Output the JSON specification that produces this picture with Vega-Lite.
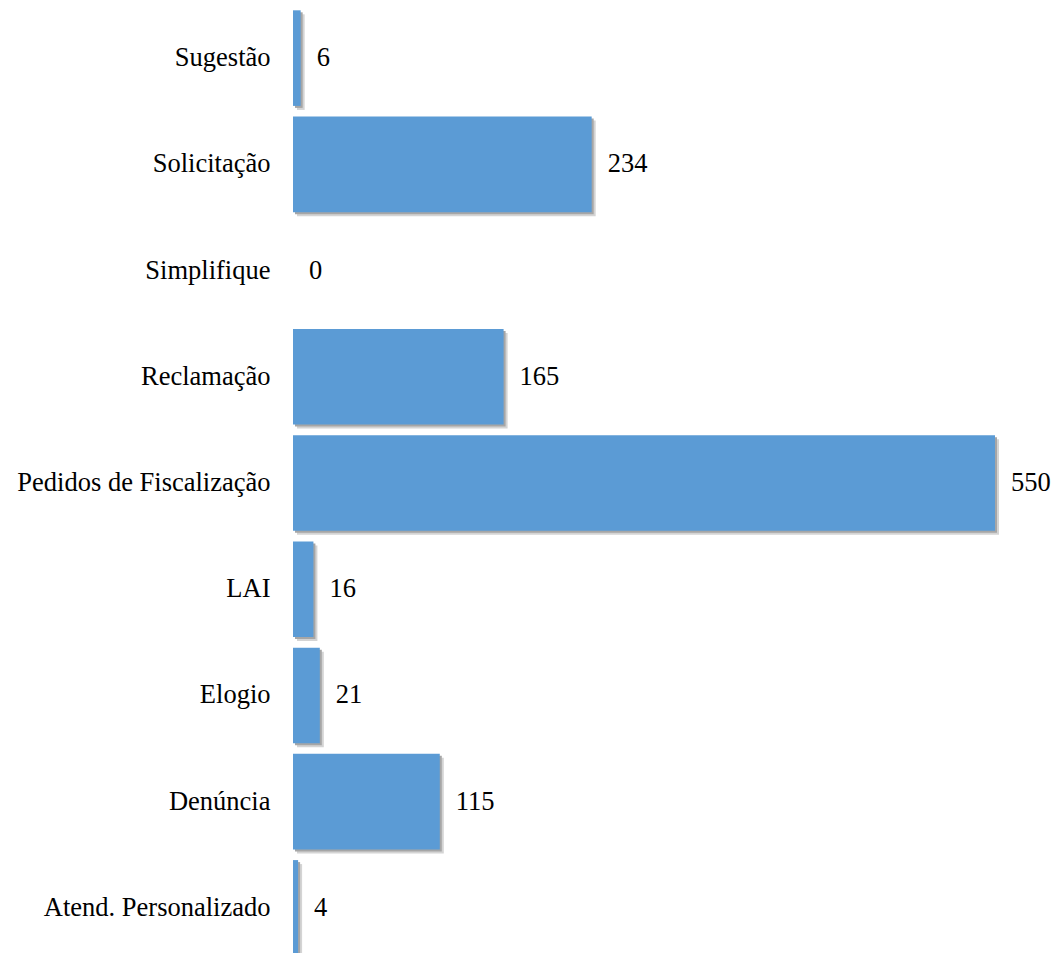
{
  "$schema": "https://vega.github.io/schema/vega-lite/v6.json",
  "width": 702,
  "height": 956,
  "autosize": "none",
  "padding": {"left": 293, "top": 5, "right": 62, "bottom": 0},
  "background": "white",
  "config": {"view": {"stroke": null}, "font": "Liberation Serif"},
  "data": {
    "values": [
      {"categoria": "Sugestão", "valor": 6},
      {"categoria": "Solicitação", "valor": 234},
      {"categoria": "Simplifique", "valor": 0},
      {"categoria": "Reclamação", "valor": 165},
      {"categoria": "Pedidos de Fiscalização", "valor": 550},
      {"categoria": "LAI", "valor": 16},
      {"categoria": "Elogio", "valor": 21},
      {"categoria": "Denúncia", "valor": 115},
      {"categoria": "Atend. Personalizado", "valor": 4}
    ]
  },
  "encoding": {
    "y": {
      "field": "categoria",
      "type": "nominal",
      "sort": null,
      "scale": {"paddingInner": 0.1, "paddingOuter": 0.05},
      "axis": {
        "title": null,
        "domain": false,
        "ticks": false,
        "labelFont": "Liberation Serif",
        "labelFontSize": 26.5,
        "labelColor": "#000000",
        "labelPadding": 23,
        "labelLimit": 400
      }
    },
    "x": {
      "field": "valor",
      "type": "quantitative",
      "scale": {"domain": [0, 550], "nice": false},
      "axis": null
    }
  },
  "layer": [
    {
      "mark": {"type": "bar", "color": "#d4d4d4", "xOffset": 4, "yOffset": 4}
    },
    {
      "mark": {"type": "bar", "color": "#a6a6a6", "xOffset": 2, "yOffset": 2}
    },
    {
      "mark": {"type": "bar", "color": "#5b9bd5"}
    },
    {
      "mark": {"type": "text", "align": "left", "baseline": "middle", "dx": 16, "font": "Liberation Serif", "fontSize": 26.5, "color": "#000000"},
      "encoding": {"text": {"field": "valor", "type": "quantitative"}}
    }
  ]
}
